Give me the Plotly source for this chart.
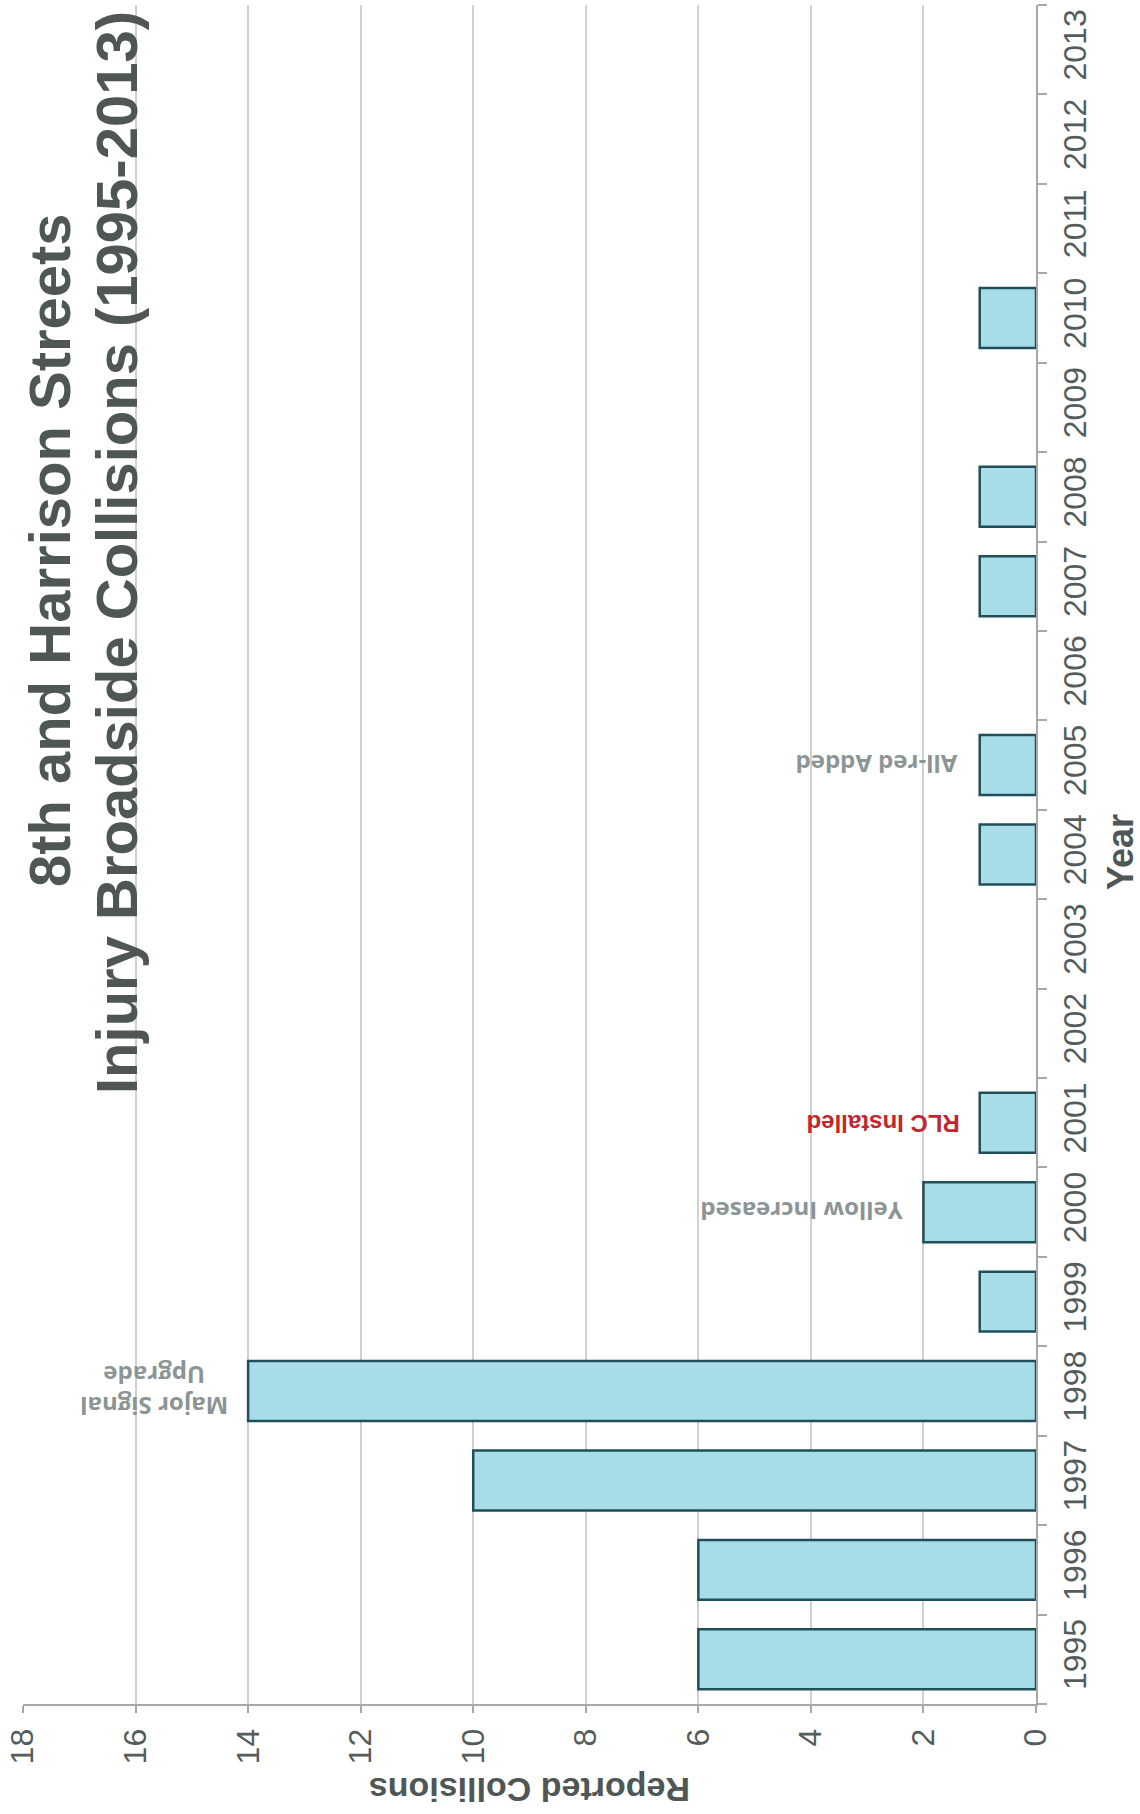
import plotly.graph_objects as go

# Injury broadside collisions per year at 8th and Harrison Streets
years = [str(y) for y in range(1995, 2014)]
collisions = [6, 6, 10, 14, 1, 2, 1, 0, 0, 1, 1, 0, 1, 1, 0, 1, 0, 0, 0]

value_ticks = list(range(0, 20, 2))

# Treatment milestones: label, year, position along the value axis
events_label = ["Major Signal<br>Upgrade", "Yellow Increased", "RLC Installed", "All-red Added"]
events_year = ["1998", "2000", "2001", "2005"]
events_pos = [15.67, 4.16, 2.72, 2.84]

W, H = 1140, 1814
L, R, T, B = 23, 104, 5, 110
PW, PH = W - L - R, H - T - B


def px(x):
    return (x - L) / PW


def py(y):
    return (H - B - y) / PH


TITLE_C = "#4f5756"
TICK_C = "#555d5c"
NOTE_C = "#8c9595"
NARROW = "Liberation Sans Narrow, Arial Narrow, sans-serif"
SANS = "Liberation Sans, Arial, sans-serif"

fig = go.Figure()
fig.add_trace(go.Bar(
    y=years,
    x=[v if v else None for v in collisions],
    orientation="h",
    marker=dict(color="#a8dde8", line=dict(color="#1f4f5b", width=2.5)),
    showlegend=False,
    hoverinfo="x+y",
))

annotations = [
    dict(text="<b>8th and Harrison Streets</b>", x=px(50), y=py(550), textangle=-90,
         font=dict(family=SANS, size=58, color=TITLE_C)),
    dict(text="<b>Injury Broadside Collisions (1995-2013)</b>", x=px(117), y=py(553), textangle=-90,
         font=dict(family=SANS, size=58, color=TITLE_C)),
    dict(text="<b>Reported Collisions</b>", x=px(530), y=py(1790), textangle=180,
         font=dict(family=SANS, size=34, color=TITLE_C)),
    dict(text="<b>Year</b>", x=px(1121), y=py(852), textangle=-90,
         font=dict(family=SANS, size=36, color=TITLE_C)),
]
for a in annotations:
    a.update(xref="paper", yref="paper", xanchor="center", yanchor="middle", showarrow=False)

note_fonts = [
    dict(family="Open Sans, sans-serif", size=24, color=NOTE_C, weight="bold"),
    dict(family="Open Sans, sans-serif", size=24, color=NOTE_C, weight="bold"),
    dict(family=SANS, size=24, color="#c1272d", weight="bold"),
    dict(family="Open Sans, sans-serif", size=24, color=NOTE_C, weight="bold"),
]
for lab, yr, pos, f in zip(events_label, events_year, events_pos, note_fonts):
    annotations.append(dict(text=lab, x=pos, y=years.index(yr), xref="x", yref="y", textangle=180,
                            xanchor="center", yanchor="middle", showarrow=False, font=f))

fig.update_layout(
    width=W, height=H,
    margin=dict(l=L, r=R, t=T, b=B, pad=0),
    paper_bgcolor="white", plot_bgcolor="white",
    bargap=0.33,
    annotations=annotations,
    xaxis=dict(
        range=[18, 0], tickvals=value_ticks, ticktext=[str(v) for v in value_ticks],
        showgrid=True, gridcolor="#d0d0d0", gridwidth=1.5, zeroline=False,
        showline=True, linecolor="#a8a8a8", linewidth=2,
        ticks="outside", ticklen=7, tickcolor="#a8a8a8", tickwidth=1.5,
        tickangle=-90, ticklabelstandoff=3,
        tickfont=dict(family=NARROW, size=32, color=TICK_C),
    ),
    yaxis=dict(
        type="category", categoryorder="array", categoryarray=years,
        range=[-0.5, len(years) - 0.5], autorange=False,
        side="right", showgrid=False, zeroline=False,
        showline=True, linecolor="#a8a8a8", linewidth=2,
        ticks="outside", tickson="boundaries", ticklen=9, tickcolor="#a8a8a8", tickwidth=1.5,
        tickangle=-90, ticklabelstandoff=10,
        tickfont=dict(family=NARROW, size=32, color=TICK_C),
    ),
)

fig.write_html("out.html")
